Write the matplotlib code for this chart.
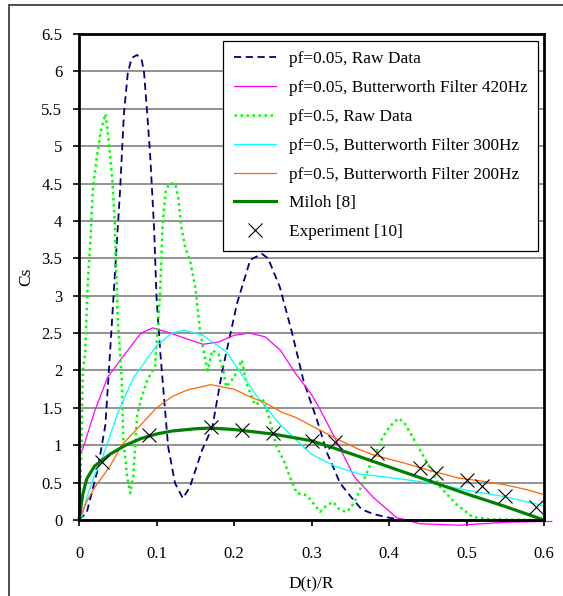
import matplotlib.pyplot as plt
from matplotlib.patches import Rectangle

plt.rcParams['font.family'] = ['Liberation Serif', 'DejaVu Serif']

# pf=0.05, raw data
raw005_x = [0, 0.01, 0.024, 0.034, 0.04, 0.044, 0.049, 0.053, 0.058, 0.063, 0.068, 0.075, 0.081,
            0.084, 0.088, 0.092, 0.097, 0.1, 0.105, 0.11, 0.115, 0.124, 0.134, 0.143, 0.159, 0.172,
            0.185, 0.204, 0.221, 0.236, 0.244, 0.259, 0.275, 0.29, 0.307, 0.32, 0.337, 0.354, 0.365,
            0.38, 0.4, 0.42, 0.5, 0.6]
raw005_y = [0, 0.1, 0.67, 1.27, 2.23, 2.9, 3.74, 4.41, 5.44, 5.98, 6.18, 6.22, 6.15,
            5.98, 5.44, 4.85, 3.88, 2.98, 2.23, 1.6, 0.98, 0.49, 0.29, 0.44, 0.94, 1.24,
            2.0, 2.9, 3.48, 3.56, 3.5, 3.12, 2.5, 1.85, 1.34, 0.9, 0.49, 0.27, 0.14,
            0.08, 0.03, 0.0, 0.0, 0.0]

# pf=0.05, Butterworth 420Hz
bw420_x = [0, 0.005, 0.02, 0.037, 0.06, 0.08, 0.095, 0.115, 0.137, 0.16, 0.18, 0.2, 0.22, 0.24,
           0.26, 0.28, 0.3, 0.31, 0.33, 0.355, 0.38, 0.41, 0.44, 0.49, 0.52, 0.55, 0.6, 0.61]
bw420_y = [0.87, 0.95, 1.45, 1.91, 2.23, 2.5, 2.57, 2.51, 2.43, 2.35, 2.38, 2.47, 2.5, 2.45,
           2.27, 1.95, 1.68, 1.5, 1.1, 0.58, 0.3, 0.03, -0.05, -0.07, -0.05, -0.03, -0.02, -0.02]

# pf=0.5, raw data
raw05_x = [0, 0.003, 0.005, 0.008, 0.011, 0.014, 0.018, 0.023, 0.028, 0.034, 0.037, 0.043, 0.046,
           0.05, 0.055, 0.057, 0.062, 0.066, 0.07, 0.075, 0.081, 0.088, 0.098, 0.102, 0.105, 0.108,
           0.112, 0.117, 0.124, 0.128, 0.132, 0.137, 0.143, 0.15, 0.156, 0.163, 0.166, 0.172, 0.18,
           0.186, 0.19, 0.2, 0.21, 0.216, 0.227, 0.238, 0.246, 0.255, 0.264, 0.272, 0.281, 0.294,
           0.302, 0.311, 0.32, 0.328, 0.337, 0.346, 0.355, 0.363, 0.372, 0.384, 0.392, 0.401,
           0.412, 0.42, 0.431, 0.449, 0.466, 0.488, 0.508, 0.53, 0.6]
raw05_y = [0, 0.9, 2.0, 2.23, 3.12, 3.61, 4.45, 4.85, 5.2, 5.43, 5.21, 4.55, 4.01,
           2.67, 1.91, 1.11, 0.58, 0.36, 0.58, 1.4, 1.65, 1.87, 2.05, 2.6, 3.12, 3.97,
           4.41, 4.5, 4.5, 4.32, 3.92, 3.65, 3.48, 3.12, 2.54, 2.14, 2.0, 2.27, 2.22,
           2.0, 1.78, 1.91, 2.14, 1.83, 1.54, 1.6, 1.34, 0.98, 0.8, 0.58, 0.36, 0.33,
           0.23, 0.11, 0.2, 0.24, 0.13, 0.11, 0.23, 0.42, 0.65, 0.92, 1.11, 1.25,
           1.36, 1.3, 1.1, 0.77, 0.44, 0.2, 0.04, 0.01, 0.0]

# pf=0.5, Butterworth 300Hz
bw300_x = [0.003, 0.01, 0.02, 0.03, 0.05, 0.07, 0.1, 0.12, 0.135, 0.16, 0.19, 0.2, 0.23, 0.26,
           0.3, 0.33, 0.36, 0.4, 0.45, 0.5, 0.55, 0.6]
bw300_y = [0, 0.3, 0.6, 0.83, 1.43, 1.9, 2.33, 2.5, 2.54, 2.47, 2.25, 2.1, 1.65, 1.27,
           0.88, 0.72, 0.62, 0.57, 0.5, 0.4, 0.31, 0.19]

# pf=0.5, Butterworth 200Hz
bw200_x = [0, 0.01, 0.02, 0.04, 0.055, 0.075, 0.1, 0.12, 0.14, 0.17, 0.2, 0.22, 0.24, 0.26,
           0.28, 0.3, 0.33, 0.36, 0.38, 0.42, 0.45, 0.49, 0.52, 0.55, 0.58, 0.6]
bw200_y = [0, 0.25, 0.43, 0.72, 1.0, 1.22, 1.5, 1.65, 1.74, 1.81, 1.75, 1.65, 1.57, 1.45,
           1.37, 1.26, 1.1, 0.95, 0.87, 0.76, 0.67, 0.56, 0.52, 0.47, 0.4, 0.34]

# Miloh [8]
miloh_x = [0, 0.005, 0.01, 0.02, 0.03, 0.04, 0.06, 0.08, 0.1, 0.12, 0.15, 0.17, 0.2, 0.25,
           0.3, 0.35, 0.4, 0.45, 0.5, 0.55, 0.6]
miloh_y = [0, 0.35, 0.55, 0.72, 0.8, 0.88, 1.0, 1.09, 1.15, 1.19, 1.22, 1.23, 1.21, 1.15,
           1.06, 0.89, 0.71, 0.53, 0.35, 0.18, 0.0]

# Experiment [10]
exp_x = [0.03, 0.09, 0.17, 0.21, 0.25, 0.30, 0.33, 0.385, 0.44, 0.46, 0.50, 0.52, 0.55, 0.59]
exp_y = [0.78, 1.14, 1.24, 1.21, 1.16, 1.05, 1.04, 0.9, 0.70, 0.63, 0.53, 0.46, 0.32, 0.17]

fig = plt.figure(figsize=(5.63, 5.96), dpi=100)
ax = fig.add_axes([79 / 563, 1 - 520 / 596, 465 / 563, 486 / 596])

# outer frame (only left and top visible)
fig.patches.append(Rectangle((9 / 563, -0.1), 1.2, 1.1 - 5 / 596, transform=fig.transFigure,
                             fill=False, edgecolor='#303030', linewidth=1.2))

ax.plot(raw005_x, raw005_y, color='#000080', lw=1.3, dashes=(4, 2.5),
        label='pf=0.05, Raw Data', clip_on=False)
ax.plot(bw420_x, bw420_y, color='#FF00FF', lw=0.9,
        label='pf=0.05, Butterworth Filter 420Hz', clip_on=False)
ax.plot(raw05_x, raw05_y, color='#00FF00', lw=1.8, dashes=(1.0, 1.4),
        label='pf=0.5, Raw Data', clip_on=False)
ax.plot(bw300_x, bw300_y, color='#00FFFF', lw=0.9,
        label='pf=0.5, Butterworth Filter 300Hz', clip_on=False)
ax.plot(bw200_x, bw200_y, color='#FF6600', lw=0.9,
        label='pf=0.5, Butterworth Filter 200Hz', clip_on=False)
ax.plot(miloh_x, miloh_y, color='#008000', lw=2.3, label='Miloh [8]', clip_on=False)
ax.plot(exp_x, exp_y, ls='none', marker='x', color='black', ms=10, mew=0.8,
        label='Experiment [10]', clip_on=False)

ax.set_xlim(0, 0.6)
ax.set_ylim(0, 6.5)
ax.set_xticks([0, 0.1, 0.2, 0.3, 0.4, 0.5, 0.6])
ax.set_xticklabels(['0', '0.1', '0.2', '0.3', '0.4', '0.5', '0.6'])
ax.set_yticks([i * 0.5 for i in range(14)])
ax.set_yticklabels(['0', '0.5', '1', '1.5', '2', '2.5', '3', '3.5', '4', '4.5', '5', '5.5', '6', '6.5'])
ax.tick_params(direction='out', length=4, width=1.2, labelsize=12)
ax.tick_params(axis='x', pad=15)
ax.tick_params(axis='y', pad=8)
ax.yaxis.grid(True, color='#808080', lw=1.2)
ax.set_axisbelow(True)
for s in ax.spines.values():
    s.set_linewidth(2)

ax.set_xlabel('D(t)/R', fontsize=12.5, labelpad=10)
ax.set_ylabel('Cs', fontsize=12.5, labelpad=5)

leg = ax.legend(loc='upper right', bbox_to_anchor=(538 / 563, 1 - 41 / 596),
                bbox_transform=fig.transFigure, fontsize=12.4, fancybox=False,
                edgecolor='black', framealpha=1, handlelength=2.45, handletextpad=0.75,
                labelspacing=0.74, borderpad=0.6, borderaxespad=0)
leg.get_frame().set_linewidth(0.9)

fig.savefig('out.png', dpi=100)
